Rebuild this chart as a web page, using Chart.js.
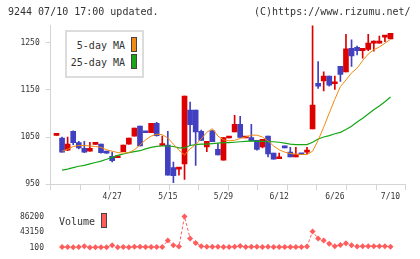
<!DOCTYPE html>
<html><head><meta charset="utf-8">
<script src="https://cdn.jsdelivr.net/npm/chart.js@4"></script>
<style>
html,body{margin:0;padding:0;background:#fff;overflow:hidden}
body{width:420px;height:259px;position:relative;font-family:'DejaVu Sans Mono',monospace;color:#333}
canvas{position:absolute;left:0}
#main{top:0}
#vol{top:205px}
.t{position:absolute;font-size:10px;line-height:12px;white-space:pre;color:#333}
.sw{position:absolute;width:6px;height:15px;box-sizing:border-box;border:1px solid #444}
#lbox{position:absolute;left:65px;top:30px;width:79px;height:48px;box-sizing:border-box;border:2px solid #dcdcdc;background:#fff}
</style>
</head><body>
<canvas id="main" width="420" height="205"></canvas>
<canvas id="vol" width="420" height="54"></canvas>
<div class="t" style="left:8px;top:6px">9244 07/10 17:00 updated.</div>
<div class="t" style="left:254px;top:6px">(C)https://www.rizumu.net/</div>
<div id="lbox"></div>
<div class="t" style="right:295px;top:40px">5-day MA</div>
<div class="t" style="right:295px;top:56.5px">25-day MA</div>
<div class="sw" id="swo" style="left:131px;top:37px"></div>
<div class="sw" id="swg" style="left:131px;top:54px"></div>
<div class="t" style="left:59px;top:216px">Volume</div>
<div class="sw" id="swv" style="left:101px;top:213px"></div>
<script>
const tickPrices = [950, 1050, 1150, 1250];
const dateLabels = ['4/27', '5/15', '5/29', '6/12', '6/26', '7/10'];
const dateIndex = [10, 20, 30, 40, 50, 60];
const volTicks = [100, 43150, 86200];

const open  = [1053.5,1048,1022,1062,1038,1026,1020,1034.5,1035,1020,1009,1006,1019,1035,1052,1073,1062,1059,1079,1032,1033,985,982,993,1107,1107,1062,1029,1063,1024,1001,1048,1061,1077,1048,1049,1043,1029,1052,1016,1004,1031,1018,1008,1013.5,1018,1067,1164,1169,1179,1163,1200,1188,1238,1240,1233,1236,1249,1249,1262,1258];
const high  = [1054.5,1050,1050,1063,1041,1041,1039,1035.5,1035,1020,1018,1008,1033,1048,1069,1073,1062,1079,1081,1052,1062,997,985,1137,1124,1107,1065,1041,1064,1036,1049,1049,1096,1094,1050,1077,1043,1045,1052,1016,1016,1031,1028,1028,1013.5,1028,1300,1210,1188,1179,1179,1200,1268,1256,1243,1238,1268,1254,1264,1263,1270];
const low   = [1053.5,1018,1021,1034,1025,1017,1020,1034.5,1016,1015,997,1006,1019,1035,1052,1031,1059,1059,1052,1032,969,953,969,960,1033,990,1043,1019,1040,1012,1001,1048,1061,1049,1048,1042,1022,1027,1008,1003,1004,1027,1008,1008,1012.5,1014,1067,1153,1148,1158,1151,1168,1188,1200,1224,1217,1233,1232,1249,1252,1258];
const close = [1054.5,1018,1035,1038,1027,1018,1026,1035.5,1017,1016,1000,1008,1033,1048,1069,1031,1059,1079,1053,1034,969,968,985,1137,1076,1061,1043,1041,1040,1012,1049,1049,1077,1049,1050,1042,1024,1045,1014,1003,1006,1027,1008,1013,1012.5,1019,1118,1158,1179,1160,1165,1183,1237,1222,1233,1238,1249,1251,1252,1263,1270];
const ma5   = [null,1020,1024,1030,1032,1032,1031,1030,1028,1023,1020,1017,1016,1017,1023,1033,1044,1052,1056,1055,1048,1035,1022,1012,1025,1034,1046,1060,1068,1052,1044,1042,1043,1047,1050,1054,1054,1050,1042,1031,1023,1018,1015,1014,1013,1013,1020,1043,1071,1101,1130,1157,1171,1186,1196,1212,1226,1235,1241,1249,1257];
const ma25  = [null,980,982,985,988,990,993,996,999,1003,1007,1011,1014,1017,1019,1021,1025,1028,1030,1031,1031,1030,1027,1027,1032,1034,1035,1035,1036,1037,1038,1038,1039,1040,1041,1042,1041,1041,1040,1040,1039,1037,1035,1034,1034,1034,1039,1046,1050,1053,1057,1060,1066,1073,1082,1090,1099,1108,1116,1125,1135];
const volume = [null,1500,1500,800,1500,3700,100,900,900,900,6500,900,1500,900,2200,2200,1500,1500,1500,1500,19500,6500,2900,86200,25200,12300,3700,2200,2200,2200,1500,1500,2200,4400,1500,2200,2200,1500,2200,1500,1500,1500,1500,1500,1500,2900,44600,25200,19500,10200,3700,7300,11600,6500,2900,3700,3700,3700,3700,3700,2200];

const FONT = "'DejaVu Sans Mono', monospace";
const RED = '#dd0000', BLUE = '#4040c0', ORANGE = '#f08a10', GREEN = '#16a616', VOL = '#ff5c5c', GRID = '#d4d4d4';
document.getElementById('swo').style.background = ORANGE;
document.getElementById('swg').style.background = GREEN;
document.getElementById('swv').style.background = VOL;

const idx = open.map((_, i) => i);
const colors = idx.map(i => close[i] >= open[i] ? RED : BLUE);
const XMIN = -1.04, XMAX = 62.73;
const plain = v => String(v);

new Chart(document.getElementById('main'), {
  type: 'bar',
  data: { datasets: [
    { type: 'line', xAxisID: 'x', yAxisID: 'y', data: idx.map(i => ({x: i, y: ma5[i]})), borderColor: ORANGE, borderWidth: 1, pointRadius: 0, order: 0 },
    { type: 'line', xAxisID: 'x', yAxisID: 'y', data: idx.map(i => ({x: i, y: ma25[i]})), borderColor: GREEN, borderWidth: 1.2, pointRadius: 0, order: 0 },
    { xAxisID: 'x', yAxisID: 'y', data: idx.map(i => ({x: i, y: [open[i], close[i]]})), backgroundColor: colors, barThickness: 5, minBarLength: 2, grouped: false, borderWidth: 0, order: 1 },
    { xAxisID: 'x', yAxisID: 'y', data: idx.map(i => ({x: i, y: [low[i], high[i]]})), backgroundColor: colors, barThickness: 1, minBarLength: 1, grouped: false, borderWidth: 0, order: 2 }
  ]},
  options: {
    responsive: false, animation: false, devicePixelRatio: 1, events: [],
    layout: { padding: { top: 25.5, right: 14.3, left: 0, bottom: 0 } },
    plugins: { legend: { display: false }, tooltip: { enabled: false } },
    scales: {
      x: {
        type: 'linear', position: 'bottom', weight: 0, min: XMIN, max: XMAX, offset: false,
        afterBuildTicks: s => { s.ticks = dateIndex.map(v => ({value: v})); },
        afterFit: s => { s.height = 20.8; },
        ticks: { autoSkip: false, maxRotation: 0, padding: 8, font: { family: FONT, size: 8 }, color: '#333',
                 callback: v => dateLabels[dateIndex.indexOf(v)] },
        grid: { display: false, drawTicks: false },
        border: { display: true, color: GRID }
      },
      x2: {
        type: 'linear', position: 'bottom', weight: -1, min: 0, max: 11,
        afterFit: s => { s.height = 0; },
        ticks: { display: false, stepSize: 1 },
        grid: { drawOnChartArea: false, drawTicks: true, tickLength: 6, color: GRID },
        border: { display: false }
      },
      y: {
        min: 950, max: 1286.5,
        afterBuildTicks: s => { s.ticks = tickPrices.map(v => ({value: v})); },
        afterFit: s => { s.width = 50.7; },
        ticks: { padding: 6, font: { family: FONT, size: 8 }, color: '#333', callback: plain },
        grid: { drawOnChartArea: false, tickLength: 5, color: GRID },
        border: { color: GRID }
      }
    }
  }
});

new Chart(document.getElementById('vol'), {
  type: 'line',
  data: { datasets: [
    { data: idx.map(i => ({x: i, y: volume[i]})), borderColor: VOL, backgroundColor: VOL, borderWidth: 1, borderDash: [3, 2],
      pointStyle: 'rectRot', pointRadius: 3, pointBorderWidth: 0, clip: false }
  ]},
  options: {
    responsive: false, animation: false, devicePixelRatio: 1, events: [],
    layout: { padding: { top: 4, right: 14.3, left: 0, bottom: 10 } },
    plugins: { legend: { display: false }, tooltip: { enabled: false } },
    scales: {
      x: { type: 'linear', display: false, min: XMIN, max: XMAX },
      y: {
        min: 100, max: 86200,
        afterBuildTicks: s => { s.ticks = volTicks.map(v => ({value: v})); },
        afterFit: s => { s.width = 50.7; },
        ticks: { padding: 6.7, font: { family: FONT, size: 8 }, color: '#333', callback: plain },
        grid: { display: false, drawTicks: false },
        border: { display: false }
      }
    }
  }
});
</script>
</body></html>
